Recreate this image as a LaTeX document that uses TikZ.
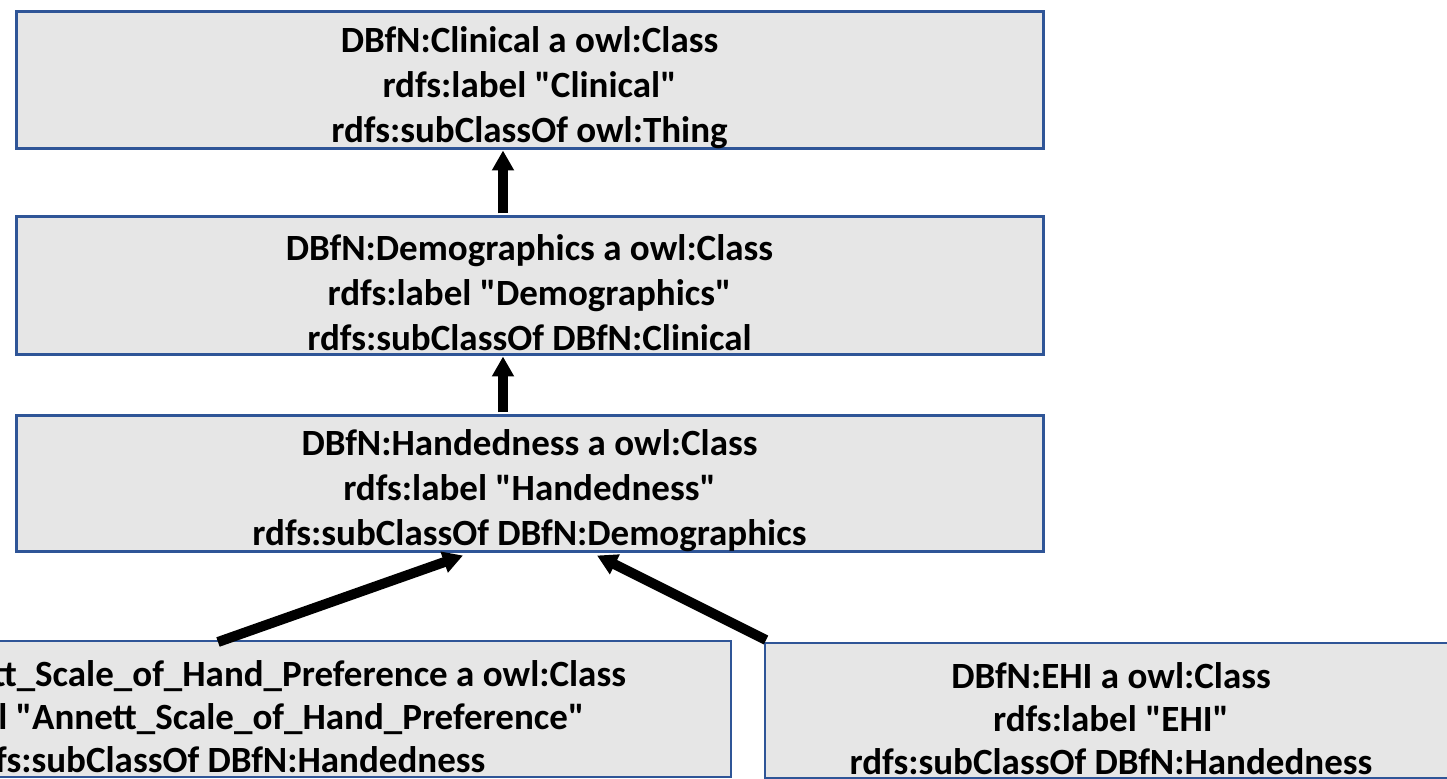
\documentclass[tikz,border=0pt]{standalone}
\usepackage{fontspec}
\setmainfont{Carlito}[Ligatures=TeXOff]
\usetikzlibrary{arrows.meta}
\definecolor{edgeblue}{RGB}{47,85,151}
\definecolor{boxfill}{RGB}{230,230,230}
\tikzset{
  classbox/.style={draw=edgeblue, fill=boxfill, line width=1.5pt, inner sep=0pt},
  leafbox/.style={classbox, line width=1pt},
  boxtext/.style={inner sep=0pt, align=center,
    font=\fontsize{18.5}{22.5}\selectfont\bfseries},
  leaftext/.style={boxtext, font=\fontsize{18.5}{21.5}\selectfont\bfseries},
  subarrow/.style={line width=5pt, -{Triangle[width=10.5pt,length=10pt]}},
}
\begin{document}
\begin{tikzpicture}[x=0.5pt,y=-0.5pt]
  \useasboundingbox (0,0) rectangle (1447,779);
  \clip (0,0) rectangle (1447,779);

  % class hierarchy, top to bottom
  \node[classbox, minimum width=513.5pt, minimum height=68.5pt] (clin) at (529.5,80.5) {};
  \node[boxtext] (clin-t) at ([yshift=-3.5pt]clin.center)
    {DBfN:Clinical a owl:Class\\ rdfs:label "Clinical"\\ rdfs:subClassOf owl:Thing};
  \node[classbox, minimum width=513.5pt, minimum height=69pt] (demo) at (529.5,286) {};
  \node[boxtext] (demo-t) at ([yshift=-3.5pt]demo.center)
    {DBfN:Demographics a owl:Class\\ rdfs:label "Demographics"\\ rdfs:subClassOf DBfN:Clinical};
  \node[classbox, minimum width=513.5pt, minimum height=68pt] (hand) at (529.5,484) {};
  \node[boxtext] (hand-t) at ([yshift=-3.5pt]hand.center)
    {DBfN:Handedness a owl:Class\\ rdfs:label "Handedness"\\ rdfs:subClassOf DBfN:Demographics};

  % leaf classes
  \node[leafbox, minimum width=507pt, minimum height=68pt] (annett) at (224,709) {};
  \node[leaftext] (annett-t) at ([yshift=-4pt]annett.center)
    {DBfN:Annett\_Scale\_of\_Hand\_Preference a owl:Class\\ rdfs:label "Annett\_Scale\_of\_Hand\_Preference"\\ rdfs:subClassOf DBfN:Handedness};
  \node[leafbox, minimum width=346pt, minimum height=67.5pt] (ehi) at (1111,710.5) {};
  \node[leaftext] (ehi-t) at ([yshift=-4pt]ehi.center)
    {DBfN:EHI a owl:Class\\ rdfs:label "EHI"\\ rdfs:subClassOf DBfN:Handedness};

  % subClassOf connectors
  \draw[subarrow] ([xshift=-13.25pt,yshift=1pt]demo.north) -- ([xshift=-13.25pt]clin.south);
  \draw[subarrow] ([xshift=-13.25pt,yshift=1pt]hand.north) -- ([xshift=-13.25pt]demo.south);
  \draw[subarrow] ([xshift=-3pt,yshift=-1pt]annett.north) -- ([xshift=-33.25pt,yshift=-1pt]hand.south);
  \draw[subarrow] ([xshift=1pt,yshift=1pt]ehi.north west) -- ([xshift=33.75pt,yshift=-1pt]hand.south);
\end{tikzpicture}
\end{document}
